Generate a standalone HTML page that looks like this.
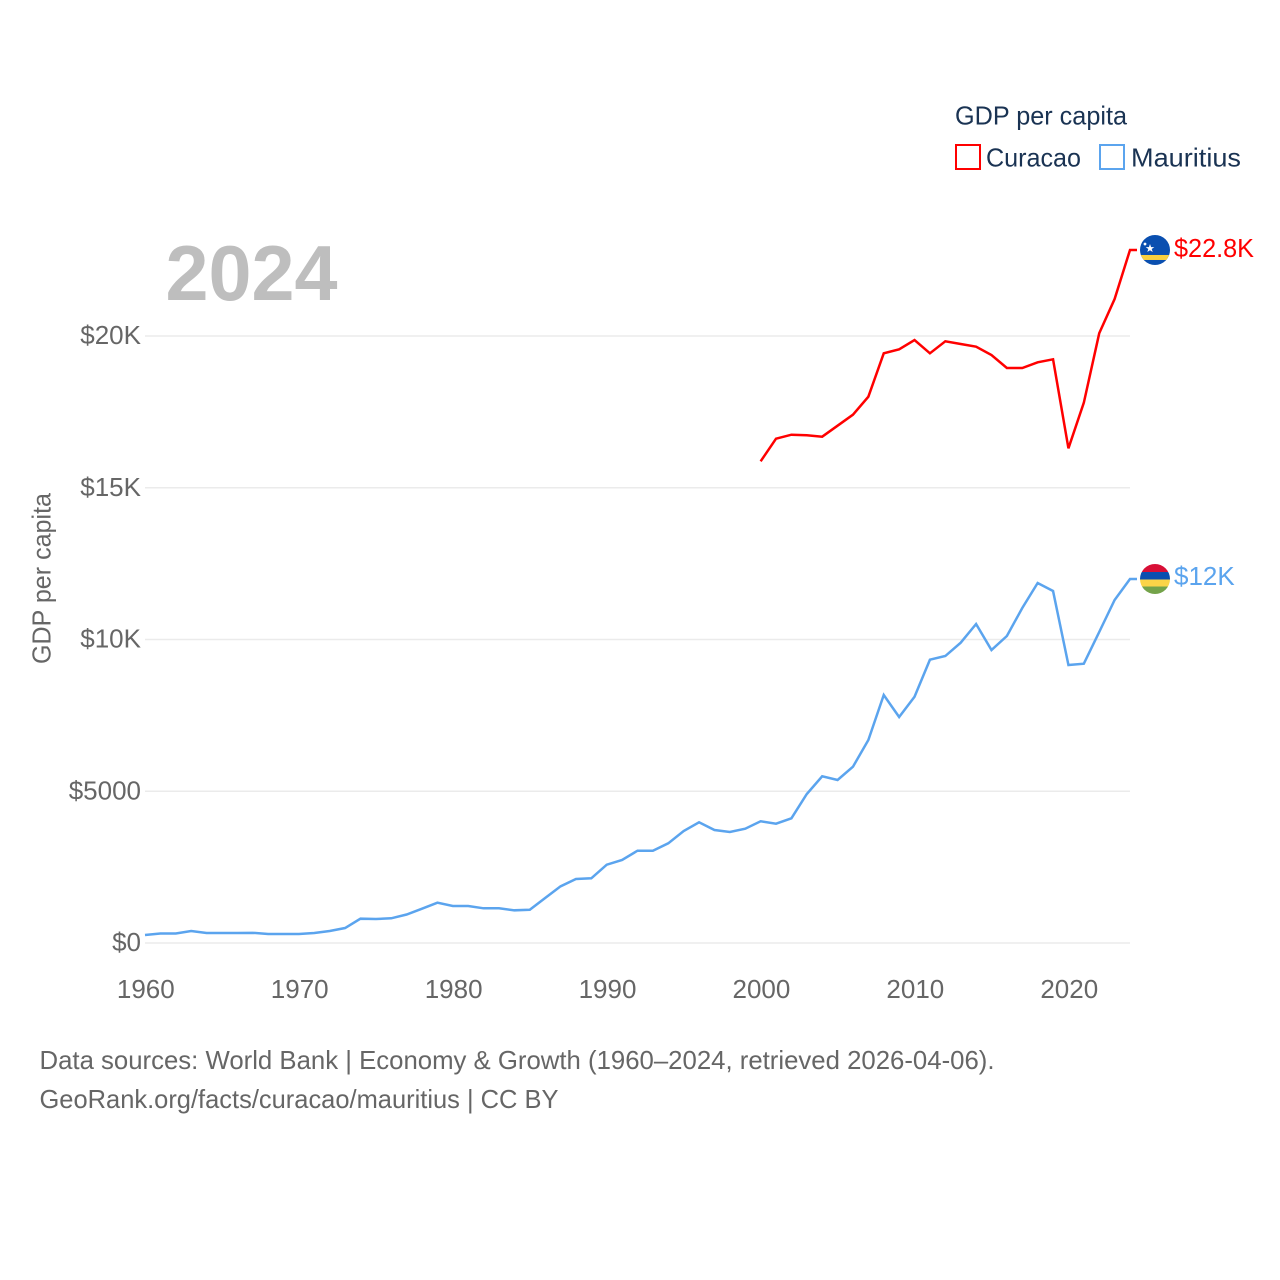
<!DOCTYPE html>
<html lang="en">
<head>
<meta charset="utf-8">
<title>GDP per capita: Curacao and Mauritius</title>
<style>
html,body{margin:0;padding:0;background:#fff;}
svg{display:block;font-family:"Liberation Sans",sans-serif;}
</style>
</head>
<body>
<svg id="chart" width="1280" height="1280" viewBox="0 0 1280 1280" xmlns="http://www.w3.org/2000/svg">
  <defs>
    <clipPath id="flag-clip"><circle cx="0" cy="0" r="15"></circle></clipPath>
  </defs>
  <rect width="1280" height="1280" fill="#ffffff"></rect>
  <g id="grid"></g>
  <g id="y-ticks"></g>
  <g id="x-ticks"></g>
  <text x="165.5" y="300" font-size="78" font-weight="700" fill="#bebebe" textLength="172" lengthAdjust="spacingAndGlyphs">2024</text>
  <text transform="translate(50.5,578.5) rotate(-90)" text-anchor="middle" font-size="26" fill="#666666" textLength="171" lengthAdjust="spacingAndGlyphs">GDP per capita</text>
  <g id="series"></g>
  <g id="flags"></g>
  <g>
    <text x="955" y="124.5" font-size="26" fill="#1a3353" textLength="172" lengthAdjust="spacingAndGlyphs">GDP per capita</text>
    <g>
      <rect x="956" y="145" width="24" height="24" fill="#ffffff" stroke="#ff0000" stroke-width="2"></rect>
      <text x="986" y="166.5" font-size="26" fill="#1a3353" textLength="95" lengthAdjust="spacingAndGlyphs">Curacao</text>
    </g>
    <g>
      <rect x="1100" y="145" width="24" height="24" fill="#ffffff" stroke="#5ba4ee" stroke-width="2"></rect>
      <text x="1131" y="166.5" font-size="26" fill="#1a3353" textLength="110" lengthAdjust="spacingAndGlyphs">Mauritius</text>
    </g>
  </g>
  <text x="39.5" y="1069" font-size="26" fill="#666666" textLength="955" lengthAdjust="spacingAndGlyphs">Data sources: World Bank | Economy &amp; Growth (1960–2024, retrieved 2026-04-06).</text>
  <text x="39.5" y="1108" font-size="26" fill="#666666" textLength="519" lengthAdjust="spacingAndGlyphs">GeoRank.org/facts/curacao/mauritius | CC BY</text>
</svg>
<script>
const yTicks = [0, 5000, 10000, 15000, 20000];
const yTickLabels = ["$0", "$5000", "$10K", "$15K", "$20K"];
const xTicks = [1960, 1970, 1980, 1990, 2000, 2010, 2020];
const mauritiusStartYear = 1960;
const mauritiusValues = [264,313,313,395,329,329,329,335,297,297,297,329,395,494,801,791,814,939,1130,1328,1219,1219,1143,1143,1077,1097,1483,1868,2109,2132,2580,2735,3041,3041,3285,3690,3977,3723,3657,3766,4010,3931,4109,4909,5493,5371,5809,6689,8171,7446,8115,9334,9456,9895,10511,9654,10115,11038,11862,11598,9160,9203,10247,11301,11993];
const curacaoStartYear = 2000;
const curacaoValues = [15871,16616,16748,16728,16682,17045,17407,18000,19430,19562,19868,19430,19825,19736,19648,19374,18946,18946,19133,19232,16300,17802,20089,21219,22834];
const endLabelMauritius = "$12K";
const endLabelCuracao = "$22.8K";

const NS = "http://www.w3.org/2000/svg";
function xScale(year) { return 145 + (year - 1960) * (1130 - 145) / 64; }
function yScale(value) { return 943 - value * (943 - 336) / 20000; }
function make(parent, tag, attrs, text) {
  const el = document.createElementNS(NS, tag);
  for (const k in attrs) el.setAttribute(k, attrs[k]);
  if (text !== undefined) el.textContent = text;
  parent.appendChild(el);
  return el;
}
const grid = document.getElementById("grid");
const yTickGroup = document.getElementById("y-ticks");
const xTickGroup = document.getElementById("x-ticks");
const seriesGroup = document.getElementById("series");
const flagsGroup = document.getElementById("flags");

yTicks.forEach(function (v, i) {
  const line = make(grid, "line", { x1: 145, x2: 1130, y1: yScale(v), y2: yScale(v), stroke: "#ebebeb", "stroke-width": 1.5 });
  
  
  const label = make(yTickGroup, "text", { x: 141, y: yScale(v) + 8, "text-anchor": "end", "font-size": 26, fill: "#666666" }, yTickLabels[i]);
  
  
});

xTicks.forEach(function (year) {
  const label = make(xTickGroup, "text", { x: xScale(year) + 0.8, y: 998, "text-anchor": "middle", "font-size": 26, fill: "#666666" }, String(year));
  
  
});

function seriesPoints(startYear, values) {
  const pts = values.map(function (v, i) { return xScale(startYear + i).toFixed(2) + "," + yScale(v).toFixed(2); });
  const lastValue = values[values.length - 1];
  pts.push((xScale(startYear + values.length - 1) + 7).toFixed(2) + "," + yScale(lastValue).toFixed(2));
  return pts.join(" ");
}

const lineCuracao = make(seriesGroup, "polyline", { points: seriesPoints(curacaoStartYear, curacaoValues), fill: "none", stroke: "#ff0000", "stroke-width": 2.5, "stroke-linejoin": "miter" });


const lineMauritius = make(seriesGroup, "polyline", { points: seriesPoints(mauritiusStartYear, mauritiusValues), fill: "none", stroke: "#5ba4ee", "stroke-width": 2.5, "stroke-linejoin": "miter" });



const curacaoY = yScale(curacaoValues[curacaoValues.length - 1]);
const flagCuracao = make(flagsGroup, "g", { transform: "translate(1155," + curacaoY + ")" });


const flagCuracaoInner = make(flagCuracao, "g", { "clip-path": "url(#flag-clip)" });
make(flagCuracaoInner, "rect", { x: -15, y: -15, width: 30, height: 30, fill: "#0a4fb0" });
make(flagCuracaoInner, "rect", { x: -15, y: 5, width: 30, height: 5, fill: "#f9d03f" });
make(flagCuracaoInner, "polygon", { points: "-5,-6 -3.9,-2.9 -0.7,-2.9 -3.3,-1 -2.3,2 -5,0.2 -7.7,2 -6.7,-1 -9.3,-2.9 -6.1,-2.9", fill: "#ffffff" });
make(flagCuracaoInner, "circle", { cx: -10, cy: -6, r: 1.4, fill: "#ffffff" });

const mauritiusY = yScale(mauritiusValues[mauritiusValues.length - 1]);
const flagMauritius = make(flagsGroup, "g", { transform: "translate(1155," + mauritiusY + ")" });


const flagMauritiusInner = make(flagMauritius, "g", { "clip-path": "url(#flag-clip)" });
make(flagMauritiusInner, "rect", { x: -15, y: -15, width: 30, height: 8, fill: "#d80f36" });
make(flagMauritiusInner, "rect", { x: -15, y: -7, width: 30, height: 7.5, fill: "#0a4fb0" });
make(flagMauritiusInner, "rect", { x: -15, y: 0.5, width: 30, height: 7, fill: "#fbd448" });
make(flagMauritiusInner, "rect", { x: -15, y: 7.5, width: 30, height: 8, fill: "#74a34a" });

const labelCuracao = make(flagsGroup, "text", { x: 1174, y: curacaoY + 7, "font-size": 26, fill: "#ff0000", textLength: 80, lengthAdjust: "spacingAndGlyphs" }, endLabelCuracao);


const labelMauritius = make(flagsGroup, "text", { x: 1174, y: mauritiusY + 6, "font-size": 26, fill: "#5ba4ee" }, endLabelMauritius);


</script>
</body>
</html>
